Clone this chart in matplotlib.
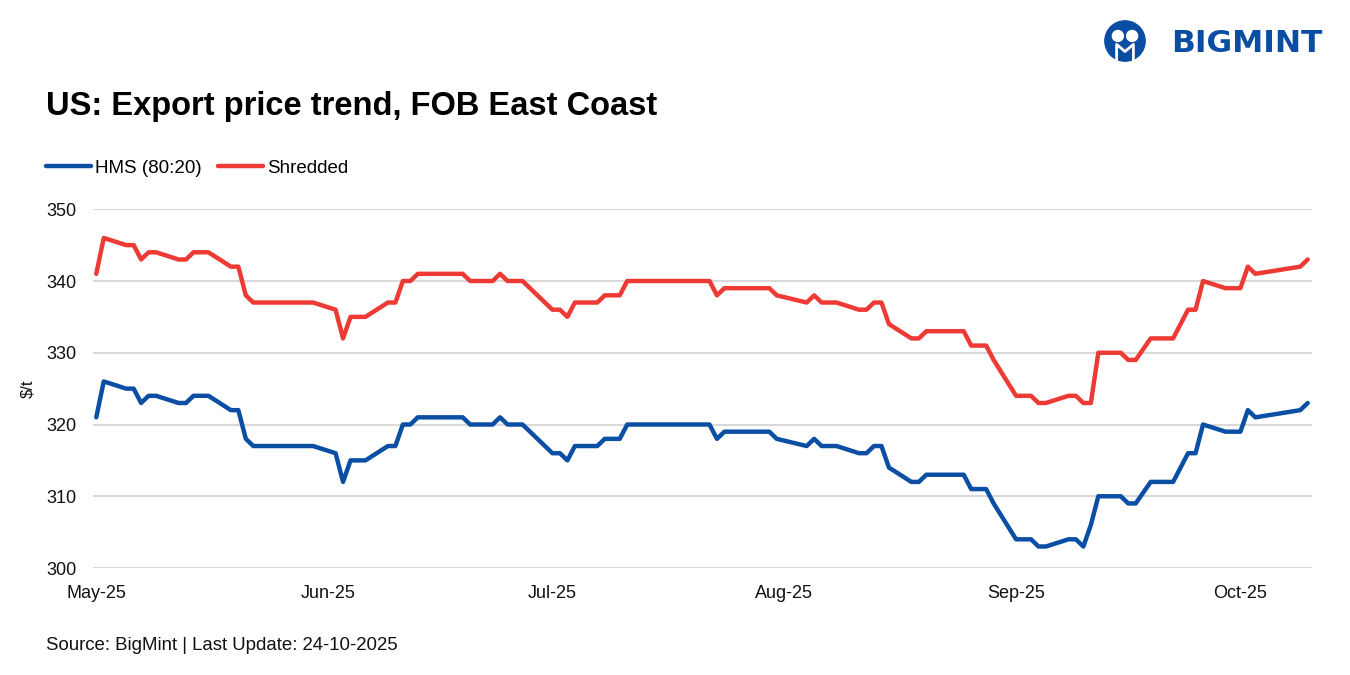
import matplotlib
matplotlib.use("Agg")
import matplotlib.pyplot as plt
import matplotlib.dates as mdates
from matplotlib.patches import Circle
import pandas as pd

# данные
dates = [
    "2025-05-01", "2025-05-02", "2025-05-05", "2025-05-06", "2025-05-07", "2025-05-08",
    "2025-05-09", "2025-05-12", "2025-05-13", "2025-05-14", "2025-05-16", "2025-05-19",
    "2025-05-20", "2025-05-21", "2025-05-22", "2025-05-30",
    "2025-06-02", "2025-06-03", "2025-06-04", "2025-06-06", "2025-06-09", "2025-06-10",
    "2025-06-11", "2025-06-12", "2025-06-13", "2025-06-19", "2025-06-20", "2025-06-23",
    "2025-06-24", "2025-06-25", "2025-06-27",
    "2025-07-01", "2025-07-02", "2025-07-03", "2025-07-04", "2025-07-07", "2025-07-08",
    "2025-07-10", "2025-07-11", "2025-07-22", "2025-07-23", "2025-07-24", "2025-07-30",
    "2025-07-31",
    "2025-08-04", "2025-08-05", "2025-08-06", "2025-08-08", "2025-08-11", "2025-08-12",
    "2025-08-13", "2025-08-14", "2025-08-15", "2025-08-18", "2025-08-19", "2025-08-20",
    "2025-08-25", "2025-08-26", "2025-08-28", "2025-08-29",
    "2025-09-01", "2025-09-03", "2025-09-04", "2025-09-05", "2025-09-08", "2025-09-09",
    "2025-09-10", "2025-09-11", "2025-09-12", "2025-09-15", "2025-09-16", "2025-09-17",
    "2025-09-19", "2025-09-22", "2025-09-23", "2025-09-24", "2025-09-25", "2025-09-26",
    "2025-09-29",
    "2025-10-01", "2025-10-02", "2025-10-03", "2025-10-09", "2025-10-10",
]

hms = [
    321, 326, 325, 325, 323, 324, 324, 323, 323, 324, 324, 322, 322, 318, 317, 317,
    316, 312, 315, 315, 317, 317, 320, 320, 321, 321, 320, 320, 321, 320, 320,
    316, 316, 315, 317, 317, 318, 318, 320, 320, 318, 319, 319, 318,
    317, 318, 317, 317, 316, 316, 317, 317, 314, 312, 312, 313, 313, 311, 311, 309,
    304, 304, 303, 303, 304, 304, 303, 306, 310, 310, 309, 309, 312, 312, 314, 316,
    316, 320, 319,
    319, 322, 321, 322, 323,
]

shredded = [
    341, 346, 345, 345, 343, 344, 344, 343, 343, 344, 344, 342, 342, 338, 337, 337,
    336, 332, 335, 335, 337, 337, 340, 340, 341, 341, 340, 340, 341, 340, 340,
    336, 336, 335, 337, 337, 338, 338, 340, 340, 338, 339, 339, 338,
    337, 338, 337, 337, 336, 336, 337, 337, 334, 332, 332, 333, 333, 331, 331, 329,
    324, 324, 323, 323, 324, 324, 323, 323, 330, 330, 329, 329, 332, 332, 334, 336,
    336, 340, 339,
    339, 342, 341, 342, 343,
]

series_names = ["HMS (80:20)", "Shredded"]
y_ticks = [300, 310, 320, 330, 340, 350]

plt.rcParams['font.family'] = ['Liberation Sans', 'DejaVu Sans']

x = pd.to_datetime(dates)

fig = plt.figure(figsize=(13.5, 6.75), dpi=100)
ax = fig.add_axes([0.069, 0.1585, 0.903, 0.5315])

ax.plot(x, hms, color='#0A4FA3', linewidth=3.2, label=series_names[0],
        solid_joinstyle='round', solid_capstyle='round')
ax.plot(x, shredded, color='#EE3A34', linewidth=3.2, label=series_names[1],
        solid_joinstyle='round', solid_capstyle='round')

ax.set_ylim(300, 350)
ax.set_yticks(y_ticks)
start = pd.Timestamp("2025-05-01")
ax.set_xlim(start - pd.Timedelta(hours=10), start + pd.Timedelta(days=162.6))
ax.xaxis.set_major_locator(mdates.MonthLocator())
ax.xaxis.set_major_formatter(mdates.DateFormatter('%b-%y'))

ax.grid(True, axis='y', color='#D9D9D9', linewidth=1.5)
ax.set_axisbelow(True)
for s in ax.spines.values():
    s.set_visible(False)
ax.tick_params(axis='both', length=0, labelsize=13, colors='#111111')
ax.tick_params(axis='y', pad=12)
ax.tick_params(axis='x', pad=12)
ax.set_ylabel('$/t', fontsize=12, color='#111111', labelpad=8)

# легенда над графиком
ax.legend(loc='lower left', ncol=2, frameon=False, fontsize=13.5,
          handlelength=2.4, handletextpad=0.2, columnspacing=0.9,
          borderpad=0.0, borderaxespad=0.0,
          bbox_to_anchor=(46 / 1350, 1 - 177 / 675), bbox_transform=fig.transFigure)

# заголовок и подпись
fig.text(46 / 1350, 1 - 107 / 675, 'US: Export price trend, FOB East Coast',
         fontsize=23.5, fontweight='bold', va='center', ha='left', color='#000000')
fig.text(46 / 1350, 1 - 646 / 675, 'Source: BigMint | Last Update: 24-10-2025',
         fontsize=13.4, va='center', ha='left', color='#111111')

# логотип
logo_blue = '#0B4DA2'
fig.text(1323 / 1350, 1 - 43 / 675, 'BIGMINT', fontsize=22.5, fontweight='bold',
         family='DejaVu Sans', color=logo_blue, ha='right', va='center')
lax = fig.add_axes([1104 / 1350, 1 - 62 / 675, 42 / 1350, 42 / 675])
lax.set_xlim(0, 1)
lax.set_ylim(0, 1)
lax.set_aspect('equal')
lax.axis('off')
lax.add_patch(Circle((0.5, 0.5), 0.48, color=logo_blue))
lax.add_patch(Circle((0.33, 0.62), 0.13, color='white'))
lax.add_patch(Circle((0.67, 0.62), 0.13, color='white'))
lax.plot([0.3, 0.3, 0.5, 0.7, 0.7], [0.05, 0.42, 0.25, 0.42, 0.05], color='white', linewidth=2)

fig.savefig('out.png', dpi=100)
